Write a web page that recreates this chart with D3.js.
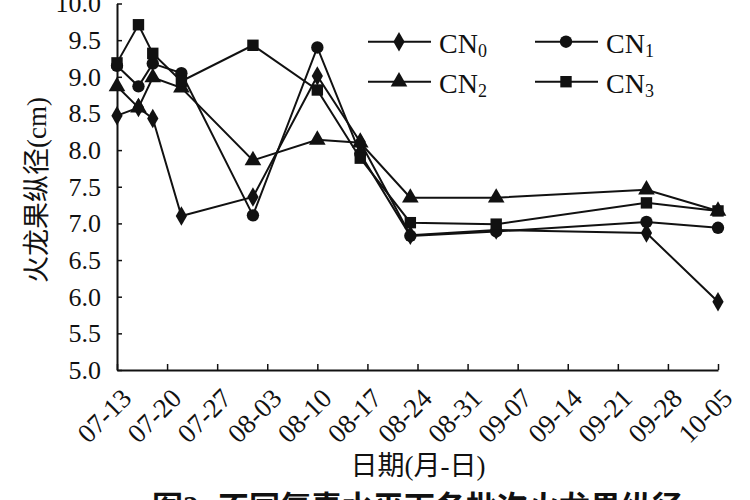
<!DOCTYPE html>
<html>
<head>
<meta charset="utf-8">
<script src="https://cdn.jsdelivr.net/npm/d3@7"></script>
<style>
  body { margin: 0; background: #fff; }
  svg { display: block; }
</style>
</head>
<body>
<div id="vis"></div>
<script>
// sampling dates (month-day) and fruit length per treatment
const dates = ["07-13","07-16","07-18","07-22","08-01","08-10","08-16","08-23","09-04","09-25","10-05"];
const cn0 = [8.47, 8.58, 8.43, 7.10, 7.36, 9.01, 8.11, 6.84, 6.91, 6.87, 5.93];
const cn1 = [9.15, 8.87, 9.18, 9.05, 7.11, 9.40, 7.95, 6.83, 6.89, 7.02, 6.94];
const cn2 = [8.87, 8.58, 8.99, 8.85, 7.86, 8.14, 8.10, 7.35, 7.35, 7.46, 7.17];
const cn3 = [9.19, 9.71, 9.32, 8.94, 9.43, 8.82, 7.89, 7.01, 6.99, 7.28, 7.17];
const seriesNames = ["CN0", "CN1", "CN2", "CN3"];
const xTickLabels = ["07-13","07-20","07-27","08-03","08-10","08-17","08-24","08-31","09-07","09-14","09-21","09-28","10-05"];
const yTicks = [5.0, 5.5, 6.0, 6.5, 7.0, 7.5, 8.0, 8.5, 9.0, 9.5, 10.0];

const W = 750, H = 500;
const FONT = "'Liberation Serif', 'Times New Roman', 'DejaVu Serif', 'Noto Sans CJK SC', serif";
const parse = d3.timeParse("%Y-%m-%d");
const toDate = s => parse("2019-" + s);

const svg = d3.select("#vis").append("svg")
  .attr("width", W).attr("height", H)
  .attr("font-family", FONT)
  .attr("fill", "#111");

svg.append("rect").attr("width", W).attr("height", H).attr("fill", "#fff");

const x = d3.scaleTime()
  .domain([toDate("07-13"), toDate("10-05")])
  .range([117, 718]);
const y = d3.scaleLinear()
  .domain([5, 10])
  .range([370, 3.5]);

// Y axis
const yAxis = d3.axisLeft(y)
  .tickValues(yTicks)
  .tickFormat(d3.format(".1f"))
  .tickSizeInner(-5)
  .tickSizeOuter(0)
  .tickPadding(16);
const gy = svg.append("g")
  .attr("transform", "translate(117,0)")
  .call(yAxis)
  .attr("font-family", FONT);
gy.select(".domain").attr("stroke", "#111").attr("stroke-width", 2);
gy.selectAll(".tick line").attr("stroke", "#111").attr("stroke-width", 1.5);
gy.selectAll(".tick text")
  .attr("font-size", 26)
  .attr("font-family", FONT)
  .attr("fill", "#111");

// X axis
const xAxis = d3.axisBottom(x)
  .tickValues(xTickLabels.map(toDate))
  .tickFormat("")
  .tickSizeInner(-6)
  .tickSizeOuter(0);
const gx = svg.append("g")
  .attr("transform", "translate(0,370)")
  .call(xAxis);
gx.select(".domain").attr("stroke", "#111").attr("stroke-width", 2);
gx.selectAll(".tick line").attr("stroke", "#111").attr("stroke-width", 1.5);

// rotated date labels
svg.append("g").selectAll("text")
  .data(xTickLabels)
  .enter().append("text")
  .attr("transform", d => `translate(${x(toDate(d)) + 16},400) rotate(-45)`)
  .attr("text-anchor", "end")
  .attr("font-family", FONT)
  .attr("font-size", 27)
  .text(d => d);

// axis titles
svg.append("text")
  .attr("transform", "translate(46,190) rotate(-90)")
  .attr("text-anchor", "middle")
  .attr("font-family", FONT)
  .attr("font-size", 27)
  .text("火龙果纵径(cm)");

svg.append("text")
  .attr("x", 418)
  .attr("y", 475)
  .attr("text-anchor", "middle")
  .attr("font-family", FONT)
  .attr("font-size", 27)
  .text("日期(月-日)");

// figure caption (cut by the bottom edge)
const cap = svg.append("text")
  .attr("y", 518)
  .attr("font-family", FONT)
  .attr("font-size", 31)
  .attr("font-weight", "bold");
cap.append("tspan").attr("x", 152).text("图2");
cap.append("tspan").attr("x", 218).text("不同氮素水平下各批次火龙果纵径");

// series
const symbols = [d3.symbolDiamond, d3.symbolCircle, d3.symbolTriangle, d3.symbolSquare];
const symSizes = [110, 120, 120, 130];
const allSeries = [cn0, cn1, cn2, cn3];

const line = d3.line()
  .x((d, i) => x(toDate(dates[i])))
  .y(d => y(d));

allSeries.forEach((vals, k) => {
  svg.append("path")
    .datum(vals)
    .attr("fill", "none")
    .attr("stroke", "#111")
    .attr("stroke-width", 2)
    .attr("d", line);
});

allSeries.forEach((vals, k) => {
  svg.append("g").selectAll("path")
    .data(vals)
    .enter().append("path")
    .attr("d", d3.symbol().type(symbols[k]).size(symSizes[k]))
    .attr("transform", (d, i) => `translate(${x(toDate(dates[i]))},${y(d)})`)
    .attr("fill", "#111");
});

// legend
const legendItems = [
  {name: "CN", sub: "0", x: 368, y: 41.7},
  {name: "CN", sub: "1", x: 535, y: 41.7},
  {name: "CN", sub: "2", x: 368, y: 81.7},
  {name: "CN", sub: "3", x: 535, y: 81.7}
];
legendItems.forEach((it, k) => {
  const g = svg.append("g").attr("transform", `translate(${it.x},${it.y})`);
  g.append("line").attr("x1", 0).attr("x2", 63)
    .attr("stroke", "#111").attr("stroke-width", 2);
  g.append("path")
    .attr("d", d3.symbol().type(symbols[k]).size(symSizes[k]))
    .attr("transform", "translate(31,0)")
    .attr("fill", "#111");
  const t = g.append("text")
    .attr("x", 71)
    .attr("y", 11)
    .attr("font-family", FONT)
    .attr("font-size", 28);
  t.append("tspan").text(it.name);
  t.append("tspan").attr("font-size", 18).attr("dy", 4).text(it.sub);
});
</script>
</body>
</html>
